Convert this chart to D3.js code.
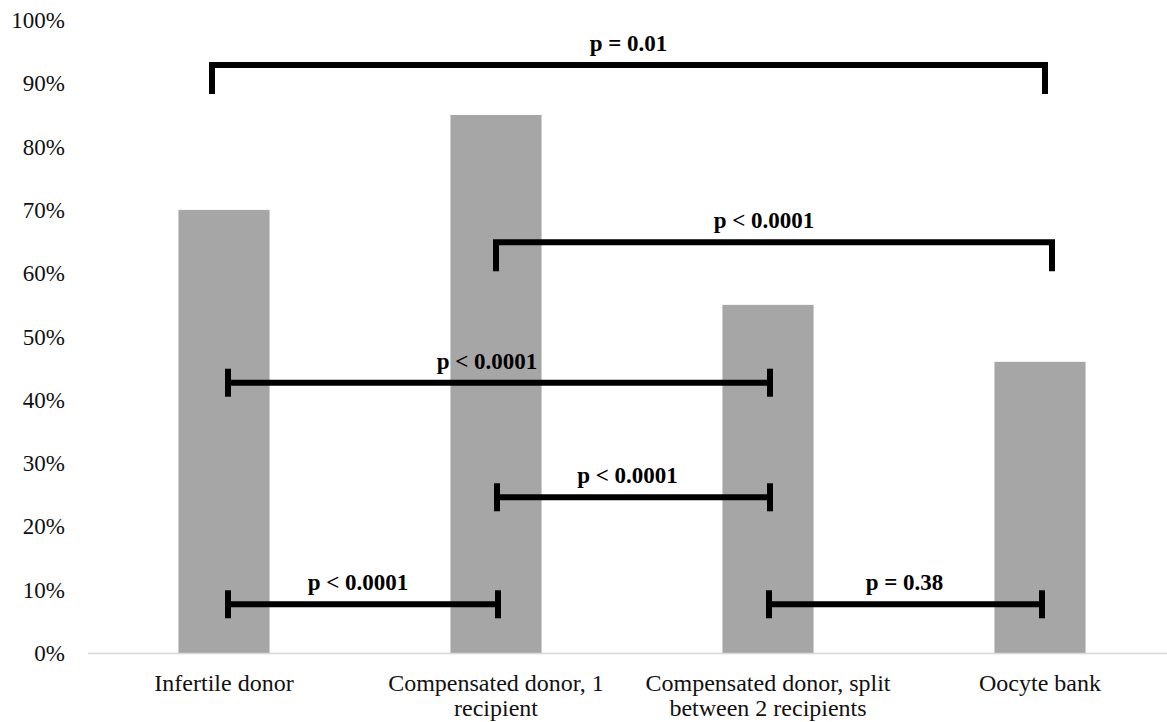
<!DOCTYPE html>
<html lang="en">
<head>
    <meta charset="UTF-8">
    <title>Donor type comparison</title>
    <script src="https://d3js.org/d3.v7.min.js"></script>
    <style>
        body { margin: 0; background: #fff; }
        svg { font-family: "Liberation Serif", "Times New Roman", serif; }
    </style>
</head>
<body>
    <div class="chart"></div>
    <script>
        var categories = [
            "Infertile donor",
            "Compensated donor, 1|recipient",
            "Compensated donor, split|between 2 recipients",
            "Oocyte bank"
        ];
        var values = [70, 85, 55, 46];
        var yTicks = [0, 10, 20, 30, 40, 50, 60, 70, 80, 90, 100];

        // comparisons: from / to category index, p label, y level (%), style
        var compFrom = [0, 1, 0, 1, 0, 2];
        var compTo = [3, 3, 2, 2, 1, 3];
        var compLabel = ["p = 0.01", "p < 0.0001", "p < 0.0001", "p < 0.0001", "p < 0.0001", "p = 0.38"];
        var compLevel = [92.9, 64.9, 42.7, 24.6, 7.7, 7.7];
        var compType = ["bracket", "bracket", "bar", "bar", "bar", "bar"];

        var width = 1167, height = 722;
        var x0 = 88, x1 = 1176, yBottom = 653, yTop = 20;

        var svg = d3.select(".chart").append("svg")
            .attr("width", width)
            .attr("height", height);

        var x = d3.scaleBand()
            .domain(d3.range(categories.length))
            .range([x0, x1])
            .paddingInner(0.665)
            .paddingOuter(0.3325);

        var y = d3.scaleLinear()
            .domain([0, 100])
            .range([yBottom, yTop]);

        var cx = i => x(i) + x.bandwidth() / 2;

        // y tick labels
        svg.append("g")
            .selectAll("text")
            .data(yTicks)
            .join("text")
            .attr("x", 65)
            .attr("y", d => y(d))
            .attr("dy", "0.35em")
            .attr("text-anchor", "end")
            .style("font-size", "23px")
            .attr("fill", "#111")
            .text(d => d + "%");

        // bars
        svg.append("g")
            .selectAll("rect")
            .data(values)
            .join("rect")
            .attr("x", (d, i) => x(i))
            .attr("y", d => y(d))
            .attr("width", x.bandwidth())
            .attr("height", d => y(0) - y(d))
            .attr("fill", "#a6a6a6");

        // baseline
        svg.append("line")
            .attr("x1", x0)
            .attr("x2", width)
            .attr("y1", y(0) + 0.5)
            .attr("y2", y(0) + 0.5)
            .attr("stroke", "#d9d9d9")
            .attr("stroke-width", 1.5);

        // category labels
        var cat = svg.append("g")
            .selectAll("text")
            .data(categories)
            .join("text")
            .attr("text-anchor", "middle")
            .style("font-size", "24px")
            .attr("fill", "#111");

        cat.selectAll("tspan")
            .data((d, i) => d.split("|").map(s => ({ s: s, i: i })))
            .join("tspan")
            .attr("x", d => cx(d.i))
            .attr("y", (d, j) => 691 + j * 25)
            .text(d => d.s);

        // significance marks
        var ann = svg.append("g");
        var bracketOffL = [-12, 0], bracketOffR = [5, 12];
        var labelDx = [0, -10, -12, -6, -5, -1];

        compFrom.forEach((f, k) => {
            var t = compTo[k];
            var yl = y(compLevel[k]);
            var xa, xb;
            if (compType[k] === "bracket") {
                xa = cx(f) + bracketOffL[k];
                xb = cx(t) + bracketOffR[k];
                ann.append("path")
                    .attr("d", `M${xa},${yl + 29}V${yl}H${xb}V${yl + 29}`)
                    .attr("fill", "none")
                    .attr("stroke", "#000")
                    .attr("stroke-width", 6)
                    .attr("stroke-linejoin", "miter");
            } else {
                xa = cx(f) + (f === 0 ? 4 : 1);
                xb = cx(t) + (t === 0 ? 4 : 2);
                ann.append("line")
                    .attr("x1", xa).attr("x2", xb)
                    .attr("y1", yl).attr("y2", yl)
                    .attr("stroke", "#000")
                    .attr("stroke-width", 6);
                [xa, xb].forEach(xx => {
                    ann.append("line")
                        .attr("x1", xx).attr("x2", xx)
                        .attr("y1", yl - 14).attr("y2", yl + 14)
                        .attr("stroke", "#000")
                        .attr("stroke-width", 6);
                });
            }
            ann.append("text")
                .attr("x", (xa + xb) / 2 + labelDx[k])
                .attr("y", yl - 14)
                .attr("text-anchor", "middle")
                .style("font-size", "23px")
                .style("font-weight", "bold")
                .attr("fill", "#000")
                .text(compLabel[k]);
        });
    </script>
</body>
</html>
